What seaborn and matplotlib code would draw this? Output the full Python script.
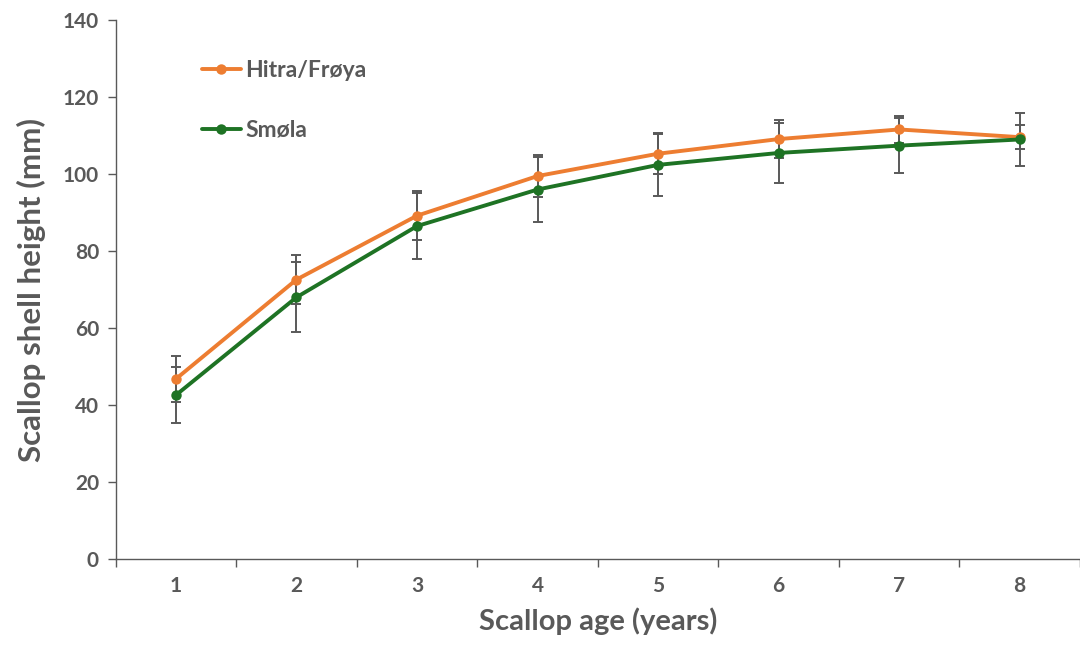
import matplotlib
matplotlib.use('Agg')
import matplotlib.pyplot as plt
import numpy as np
import pandas as pd
import seaborn as sns

# scallop age (years)
ages = [1, 2, 3, 4, 5, 6, 7, 8]

# mean shell height (mm) and error (+/-)
hitra = [46.8, 72.6, 89.2, 99.5, 105.3, 109.1, 111.6, 109.6]
hitra_err = [6.0, 6.4, 6.4, 5.4, 5.3, 5.0, 3.4, 3.1]
smola = [42.6, 68.0, 86.5, 96.0, 102.4, 105.5, 107.4, 109.0]
smola_err = [7.3, 9.1, 8.6, 8.4, 8.0, 7.8, 7.2, 6.8]

labels = ['Hitra/Frøya', 'Smøla']
colors = {'Hitra/Frøya': '#ED7D31', 'Smøla': '#1E7324'}

sns.set_theme(style='white')
plt.rcParams['font.family'] = ['Lato', 'DejaVu Sans']
grey = '#595959'

df = pd.DataFrame({
    'age': ages + ages,
    'height': hitra + smola,
    'site': [labels[0]] * len(ages) + [labels[1]] * len(ages),
})

fig = plt.figure(figsize=(10.8, 6.48), dpi=100)
ax = fig.add_axes([0.107, 0.137, 0.893, 0.832])

# error bars behind the lines
ax.errorbar(ages, hitra, yerr=hitra_err, fmt='none', ecolor=grey, elinewidth=1.4,
            capsize=3.5, capthick=1.4, zorder=1)
ax.errorbar(ages, smola, yerr=smola_err, fmt='none', ecolor=grey, elinewidth=1.4,
            capsize=3.5, capthick=1.4, zorder=1)

sns.lineplot(data=df, x='age', y='height', hue='site', palette=colors, marker='o',
             markersize=7.5, markeredgewidth=0, linewidth=2.8, ax=ax, zorder=3)

ax.set_xlim(0.5, 8.5)
ax.set_ylim(0, 140)
ax.set_yticks(np.arange(0, 141, 20))
ax.set_xticks(ages)
ax.set_xticks(np.arange(0.5, 8.6, 1), minor=True)
ax.tick_params(axis='x', which='major', length=0, pad=12, labelsize=15, colors=grey)
ax.tick_params(axis='x', which='minor', length=6, width=1, color=grey, direction='out')
ax.tick_params(axis='y', length=6, width=1, color=grey, direction='out', labelsize=15,
               colors=grey, left=True, pad=6)
ax.tick_params(axis='x', bottom=True, which='both')
for t in ax.get_xticklabels() + ax.get_yticklabels():
    t.set_fontweight('bold')
    t.set_color(grey)

for s in ['top', 'right']:
    ax.spines[s].set_visible(False)
for s in ['left', 'bottom']:
    ax.spines[s].set_color(grey)
    ax.spines[s].set_linewidth(1)

ax.set_xlabel('Scallop age (years)', fontsize=21, fontweight='bold', color=grey, labelpad=8)
ax.set_ylabel('Scallop shell height (mm)', fontsize=22.5, fontweight='bold', color=grey, labelpad=12)

leg = ax.legend(loc='upper left', bbox_to_anchor=(0.068, 0.965), frameon=False, fontsize=16.5,
                labelspacing=1.7, handlelength=1.7, handletextpad=0.2)
for t in leg.get_texts():
    t.set_fontweight('bold')
    t.set_color(grey)

fig.savefig('out.png', dpi=100)
